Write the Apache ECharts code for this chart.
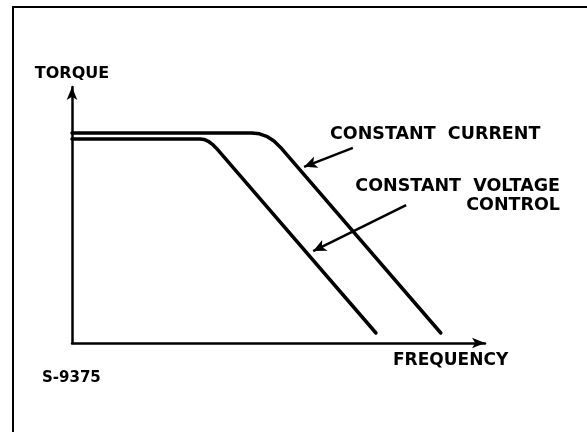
<!DOCTYPE html>
<html>
<head>
<meta charset="utf-8">
<script src="https://cdn.jsdelivr.net/npm/echarts@6/dist/echarts.min.js"></script>
<style>
  html, body { margin: 0; padding: 0; background: #fff; }
  #chart { width: 587px; height: 432px; }
</style>
</head>
<body>
<div id="chart"></div>
<script>
// frequency / torque in arbitrary units (0-100)
const constantCurrent = [[0, 82.0], [43.5, 82.0], [45.4, 81.7], [47.3, 80.6], [48.9, 78.9], [50.5, 76.4], [89.3, 3.9]];
const constantVoltage = [[0, 79.7], [31.0, 79.7], [32.0, 79.5], [33.0, 78.8], [34.0, 77.6], [35.0, 76.0], [73.6, 3.9]];
// pointer arrows: [from, to]
const currentArrow = [[68.0, 76.2], [56.2, 68.8]];
const voltageArrow = [[80.9, 53.9], [58.4, 35.9]];

const ink = '#000';
const chart = echarts.init(document.getElementById('chart'));

function pointer(pts) {
  return {
    silent: true,
    symbol: ['none', 'arrow'],
    symbolSize: [9, 13],
    label: { show: false },
    lineStyle: { color: ink, width: 2.5, type: 'solid' },
    data: [[{ coord: pts[0] }, { coord: pts[1] }]]
  };
}

const option = {
  animation: false,
  backgroundColor: '#fff',
  grid: { left: 72, right: 102, top: 87, bottom: 89 },
  xAxis: {
    type: 'value', min: 0, max: 100,
    splitLine: { show: false }, axisTick: { show: false }, axisLabel: { show: false },
    axisLine: { show: true, onZero: false, symbol: ['none', 'arrow'], symbolSize: [8, 13],
      lineStyle: { color: ink, width: 2.5 } }
  },
  yAxis: {
    type: 'value', min: 0, max: 100,
    name: 'TORQUE', nameLocation: 'end', nameGap: 5,
    nameTextStyle: { color: ink, fontFamily: 'DejaVu Sans', fontWeight: 'bold', fontSize: 16, align: 'center' },
    splitLine: { show: false }, axisTick: { show: false }, axisLabel: { show: false },
    axisLine: { show: true, onZero: false, symbol: ['none', 'arrow'], symbolSize: [8, 13],
      lineStyle: { color: ink, width: 2.5 } }
  },
  series: [
    {
      name: 'CONSTANT CURRENT', type: 'line', data: constantCurrent,
      showSymbol: false,
      lineStyle: { color: ink, width: 3.5, cap: 'round', join: 'round' },
      markLine: pointer(currentArrow)
    },
    {
      name: 'CONSTANT VOLTAGE CONTROL', type: 'line', data: constantVoltage,
      showSymbol: false,
      lineStyle: { color: ink, width: 3.5, cap: 'round', join: 'round' },
      markLine: pointer(voltageArrow)
    }
  ],
  graphic: [
    { type: 'rect', silent: true, shape: { x: 13, y: 7, width: 700, height: 600 },
      style: { fill: 'none', stroke: ink, lineWidth: 2 } },
    { type: 'text', x: 330, y: 134, style: { text: 'CONSTANT  CURRENT', fill: ink,
      font: 'bold 17.5px "DejaVu Sans"', textVerticalAlign: 'middle' } },
    { type: 'text', x: 560, y: 177, style: { text: 'CONSTANT  VOLTAGE\nCONTROL', fill: ink,
      font: 'bold 17.5px "DejaVu Sans"', textAlign: 'right', textVerticalAlign: 'top', lineHeight: 19 } },
    { type: 'text', x: 393, y: 361, style: { text: 'FREQUENCY', fill: ink,
      font: 'bold 17px "DejaVu Sans"', textVerticalAlign: 'middle' } },
    { type: 'text', x: 42, y: 378, style: { text: 'S-9375', fill: ink,
      font: 'bold 15px "DejaVu Sans"', textVerticalAlign: 'middle' } }
  ]
};

chart.setOption(option);
</script>
</body>
</html>
